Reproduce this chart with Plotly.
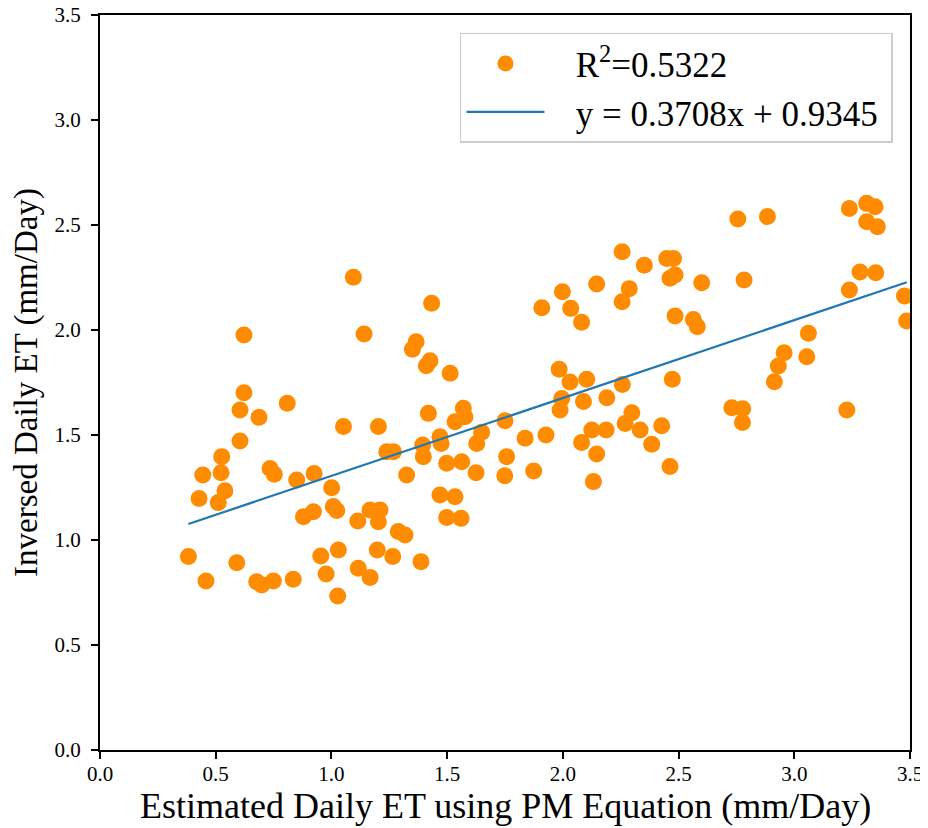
import plotly.graph_objects as go

pm_et = [0.382, 0.428, 0.444, 0.458, 0.511, 0.523, 0.526, 0.540, 0.591, 0.605, 0.605, 0.622, 0.622,
         0.677, 0.687, 0.699, 0.735, 0.749, 0.753, 0.809, 0.835, 0.850, 0.879, 0.922, 0.925, 0.954,
         0.977, 1.001, 1.008, 1.023, 1.027, 1.030, 1.052, 1.095, 1.114, 1.116, 1.141, 1.167, 1.167,
         1.198, 1.203, 1.203, 1.210, 1.239, 1.265, 1.268, 1.289, 1.318, 1.325, 1.350, 1.366, 1.387,
         1.394, 1.397, 1.410, 1.419, 1.426, 1.433, 1.469, 1.469, 1.474, 1.498, 1.498, 1.513, 1.534,
         1.534, 1.560, 1.563, 1.570, 1.577, 1.625, 1.628, 1.649, 1.749, 1.750, 1.757, 1.837, 1.874,
         1.909, 1.927, 1.984, 1.988, 1.995, 1.998, 2.031, 2.034, 2.081, 2.081, 2.089, 2.103, 2.125,
         2.132, 2.146, 2.146, 2.187, 2.190, 2.256, 2.256, 2.257, 2.269, 2.287, 2.298, 2.334, 2.352,
         2.384, 2.427, 2.449, 2.463, 2.463, 2.473, 2.478, 2.485, 2.485, 2.564, 2.581, 2.600, 2.730,
         2.756, 2.776, 2.777, 2.783, 2.884, 2.914, 2.931, 2.956, 3.054, 3.061, 3.227, 3.238, 3.238,
         3.284, 3.313, 3.313, 3.349, 3.352, 3.359, 3.476, 3.486]

inv_et = [0.921, 1.198, 1.310, 0.805, 1.178, 1.320, 1.397, 1.235, 0.892, 1.471, 1.619, 1.701, 1.976,
          0.801, 1.584, 0.786, 1.341, 0.805, 1.313, 1.651, 0.813, 1.286, 1.111, 1.135, 1.317, 0.924,
          0.838, 1.249, 1.159, 1.140, 0.733, 0.952, 1.540, 2.251, 1.090, 0.865, 1.981, 0.822, 1.143,
          0.952, 1.540, 1.087, 1.143, 1.420, 0.921, 1.420, 1.040, 1.024, 1.310, 1.908, 1.944, 0.897,
          1.452, 1.397, 1.830, 1.603, 1.854, 2.127, 1.492, 1.214, 1.460, 1.365, 1.107, 1.794, 1.563,
          1.206, 1.103, 1.373, 1.627, 1.587, 1.320, 1.460, 1.513, 1.306, 1.568, 1.397, 1.484, 1.329,
          2.106, 1.500, 1.813, 1.619, 1.674, 2.182, 1.752, 2.103, 2.037, 1.464, 1.660, 1.765, 1.524,
          1.278, 2.219, 1.410, 1.524, 1.677, 2.373, 2.135, 1.741, 1.555, 2.197, 1.606, 1.524, 2.308,
          1.456, 1.544, 2.341, 2.246, 1.350, 1.765, 2.341, 2.262, 2.067, 2.050, 2.016, 2.225, 1.630,
          2.529, 1.559, 1.625, 2.238, 2.540, 1.754, 1.829, 1.892, 1.873, 1.984, 1.619, 2.579, 2.190,
          2.276, 2.603, 2.516, 2.587, 2.273, 2.492, 2.162, 2.043]

slope = 0.3708
intercept = 0.9345
r_squared = 0.5322

tick_vals = [0.0, 0.5, 1.0, 1.5, 2.0, 2.5, 3.0, 3.5]
tick_text = ["0.0", "0.5", "1.0", "1.5", "2.0", "2.5", "3.0", "3.5"]

x_title = "Estimated Daily ET using PM Equation (mm/Day)"
y_title = "Inversed Daily ET (mm/Day)"

fit_x = [min(pm_et), max(pm_et)]
fit_y = [slope * v + intercept for v in fit_x]

font_family = "Liberation Serif, Times New Roman, serif"
pad = "\u00a0\u00a0\u00a0"
tail = "\u00a0"

fig = go.Figure()
fig.add_trace(go.Scatter(
    x=pm_et, y=inv_et, mode="markers",
    marker=dict(color="#FF8C00", size=17, line=dict(width=0)),
    name=pad + "R<sup>2</sup>=%.4f" % r_squared + tail,
))
fig.add_trace(go.Scatter(
    x=fit_x, y=fit_y, mode="lines",
    line=dict(color="#1f77b4", width=2.2),
    name=pad + f"y = {slope:.4f}x + {intercept:.4f}" + tail,
))

axis_common = dict(
    range=[0, 3.5], tickvals=tick_vals, ticktext=tick_text,
    showline=True, linecolor="black", linewidth=2, mirror=True,
    ticks="outside", ticklen=7, tickwidth=1.5, tickcolor="black",
    showgrid=False, zeroline=False, automargin=False,
    ticklabeloverflow="allow",
    tickfont=dict(family=font_family, size=21, color="black"),
)

fig.update_xaxes(**axis_common, ticklabelstandoff=-3)
fig.update_yaxes(**axis_common, ticklabelstandoff=6,
                 title=dict(text=y_title,
                            font=dict(family=font_family, size=33, color="black"), standoff=14))

fig.add_annotation(
    text=x_title, xref="paper", yref="paper", x=0.501, y=-0.076,
    xanchor="center", yanchor="middle", showarrow=False,
    font=dict(family=font_family, size=36, color="black"),
)

# page body adds an 8px offset, so the figure is 8px smaller than the window
fig.update_layout(
    width=920, height=820,
    margin=dict(l=92, r=18, t=7, b=78),
    plot_bgcolor="white", paper_bgcolor="white",
    font=dict(family=font_family, color="black"),
    legend=dict(
        x=0.979, y=0.976, xanchor="right", yanchor="top",
        bgcolor="white", bordercolor="#cccccc", borderwidth=1.5,
        font=dict(family=font_family, size=35, color="black"),
        itemwidth=78, tracegroupgap=0,
    ),
    showlegend=True,
)

fig.write_html("out.html")
